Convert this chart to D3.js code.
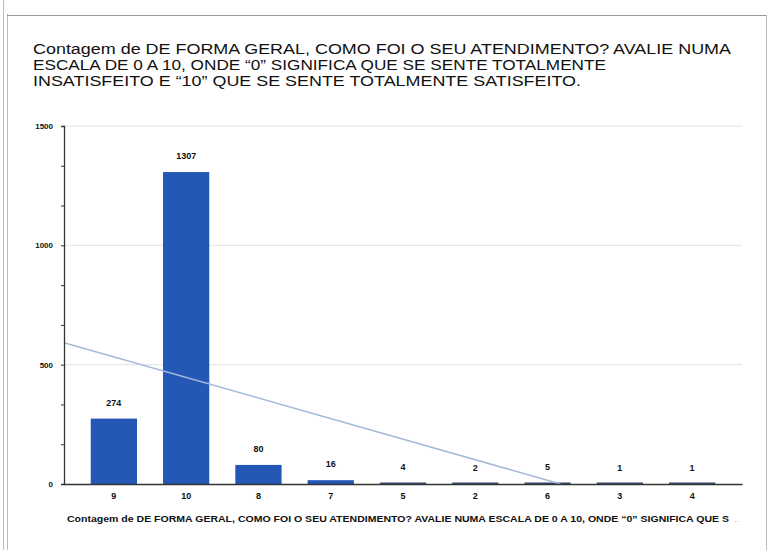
<!DOCTYPE html>
<html><head><meta charset="utf-8">
<script src="https://cdn.jsdelivr.net/npm/d3@7"></script>
<style>body{margin:0;background:#fff}svg{display:block}text{font-family:"Liberation Sans",Arial,sans-serif}</style>
</head><body>
<script>
const categories = ["9","10","8","7","5","2","6","3","4"];
const counts = [274,1307,80,16,4,2,5,1,1];
const yTicks = [0,500,1000,1500];
const titleLines = [
  "Contagem de DE FORMA GERAL, COMO FOI O SEU ATENDIMENTO? AVALIE NUMA",
  "ESCALA DE 0 A 10, ONDE “0” SIGNIFICA QUE SE SENTE TOTALMENTE",
  "INSATISFEITO E “10” QUE SE SENTE TOTALMENTE SATISFEITO."
];
const xTitle = "Contagem de DE FORMA GERAL, COMO FOI O SEU ATENDIMENTO? AVALIE NUMA ESCALA DE 0 A 10, ONDE “0” SIGNIFICA QUE S";

const W=769,H=550;
const svg=d3.select("body").append("svg").attr("width",W).attr("height",H);

// frame
const fr=svg.append("g").attr("stroke","#bdbdbd").attr("fill","none");
fr.append("line").attr("x1",3.5).attr("x2",3.5).attr("y1",0).attr("y2",H);
fr.append("line").attr("x1",7.5).attr("x2",7.5).attr("y1",14).attr("y2",H);
fr.append("line").attr("x1",7).attr("x2",767).attr("y1",15.5).attr("y2",15.5).attr("stroke","#9a9a9a");
fr.append("line").attr("x1",766.5).attr("x2",766.5).attr("y1",15).attr("y2",H);

// title
const tl=[698,573,548];
svg.append("g").selectAll("text").data(titleLines).join("text")
  .attr("x",33).attr("y",(d,i)=>54+i*16)
  .attr("font-size",15.5).attr("fill","#111")
  .attr("textLength",(d,i)=>tl[i]).attr("lengthAdjust","spacingAndGlyphs")
  .text(d=>d);

const x=d3.scaleBand().domain(categories).range([64,742]).paddingInner(0.36).paddingOuter(0.37);
const y=d3.scaleLinear().domain([0,1500]).range([484,126]);

// gridlines
svg.append("g").selectAll("line").data(yTicks.filter(d=>d>0)).join("line")
  .attr("x1",64).attr("x2",742).attr("y1",d=>y(d)).attr("y2",d=>y(d))
  .attr("stroke","#e2e2e2").attr("stroke-width",1);

// bars
svg.append("g").selectAll("rect").data(counts).join("rect")
  .attr("x",(d,i)=>x(categories[i])).attr("width",x.bandwidth())
  .attr("y",d=>Math.min(y(d),482.5)).attr("height",d=>Math.max(y(0)-y(d),1.5))
  .attr("fill",(d)=>d>10?"#2457b6":"#34496f");

// value labels
svg.append("g").selectAll("text").data(counts).join("text")
  .attr("x",(d,i)=>x(categories[i])+x.bandwidth()/2).attr("y",d=>y(d)-13)
  .attr("text-anchor","middle").attr("font-size",9).attr("font-weight","bold").attr("fill","#111")
  .text(d=>d);

// trend line (linear regression of counts over category order)
const idx=counts.map((d,i)=>i+1);
const mx=d3.mean(idx), my=d3.mean(counts);
const slope=d3.sum(idx,(v,i)=>(v-mx)*(counts[i]-my))/d3.sum(idx,v=>(v-mx)*(v-mx));
const icpt=my-slope*mx;
const step=x.step();
const c0=x(categories[0])+x.bandwidth()/2;
const xi=d3.scaleLinear().domain([1,2]).range([c0,c0+step]);
const iStart=xi.invert(64), iEnd=-icpt/slope;
svg.append("line")
  .attr("x1",xi(iStart)).attr("y1",y(icpt+slope*iStart))
  .attr("x2",xi(iEnd)).attr("y2",y(0))
  .attr("stroke","#a5b8da").attr("stroke-width",1.5);

// y axis
const ya=svg.append("g").attr("transform","translate(64,0)")
  .call(d3.axisLeft(y).tickValues(d3.range(0,1501,500/3)).tickSize(3).tickFormat(d=>yTicks.includes(Math.round(d))?Math.round(d):""));
ya.select(".domain").attr("stroke","#333").attr("stroke-width",1.3);
ya.selectAll(".tick line").attr("stroke","#333");
ya.selectAll(".tick text").attr("x",-11).attr("font-size",8).attr("font-weight","bold").attr("fill","#111").attr("font-family","Liberation Sans, Arial");

// x axis
const xa=svg.append("g").attr("transform","translate(0,484)")
  .call(d3.axisBottom(x).tickSize(0).tickPadding(9));
xa.select(".domain").attr("stroke","#333").attr("stroke-width",1.6);
xa.selectAll(".tick text").attr("font-size",9).attr("font-weight","bold").attr("fill","#111").attr("font-family","Liberation Sans, Arial");

// x title
svg.append("text").attr("x",67).attr("y",522).attr("font-size",9).attr("font-weight","bold").attr("fill","#111")
  .attr("textLength",662).attr("lengthAdjust","spacingAndGlyphs").text(xTitle);
svg.append("text").attr("x",734).attr("y",522).attr("font-size",9).attr("fill","#bbb").text("..");
</script>
</body></html>
